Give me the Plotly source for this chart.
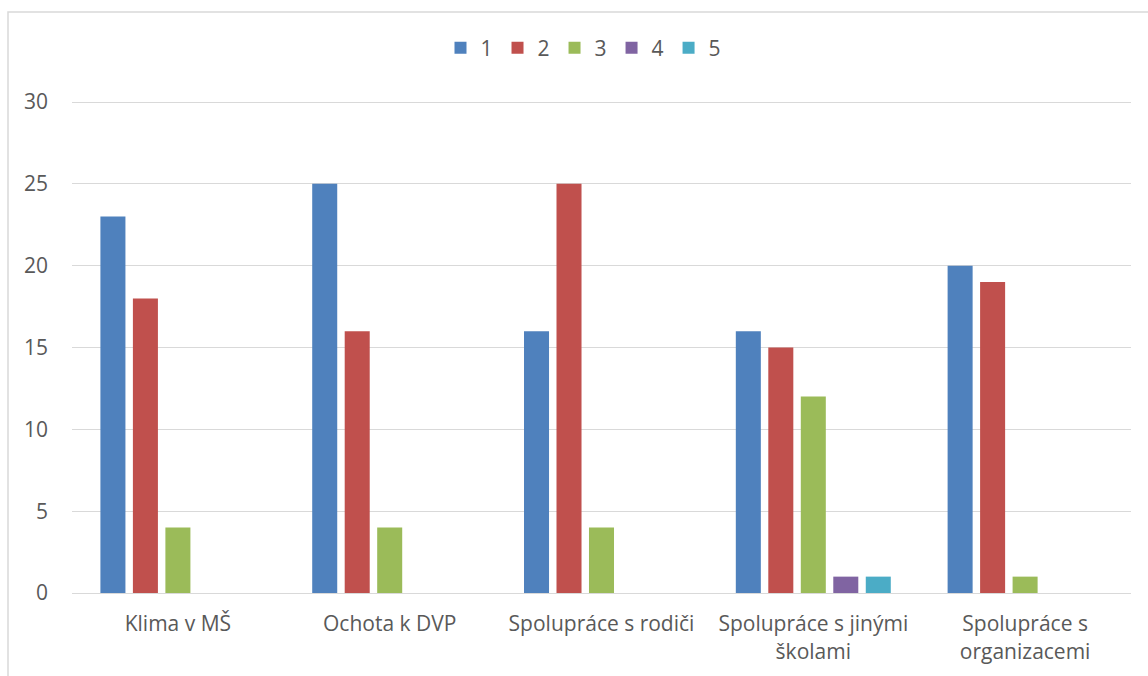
import plotly.graph_objects as go

categories = ["Klima v MŠ", "Ochota k DVP", "Spolupráce s rodiči",
              "Spolupráce s jinými<br>školami", "Spolupráce s<br>organizacemi"]
series_names = ["1", "2", "3", "4", "5"]
s1 = [23, 25, 16, 16, 20]
s2 = [18, 16, 25, 15, 19]
s3 = [4, 4, 4, 12, 1]
s4 = [0, 0, 0, 1, 0]
s5 = [0, 0, 0, 1, 0]
colors = ["#4F81BD", "#C0504D", "#9BBB59", "#8064A2", "#4BACC6"]
y_ticks = [0, 5, 10, 15, 20, 25, 30]

fig = go.Figure()
for name, vals, c in zip(series_names, [s1, s2, s3, s4, s5], colors):
    fig.add_trace(go.Bar(name=name, x=categories, y=vals, marker_color=c,
                         marker_line_width=0))

font_family = "Open Sans, Liberation Sans, sans-serif"
top = 100
plot_h = 593 - top
fig.update_layout(
    width=1148, height=676,
    margin=dict(l=72, r=17, t=top, b=83, autoexpand=False),
    paper_bgcolor="white", plot_bgcolor="white",
    barmode="group", bargap=0.233, bargroupgap=0.23,
    font=dict(family=font_family, size=21, color="#595959"),
    legend=dict(orientation="h", x=0.483, xanchor="center",
                y=(593 - 48) / plot_h, yanchor="middle",
                font=dict(size=21, color="#595959"), itemwidth=30,
                traceorder="normal"),
    xaxis=dict(showgrid=False, showline=True, linecolor="#D9D9D9", linewidth=1,
               ticks="", ticklabelstandoff=12,
               tickfont=dict(size=21, color="#595959")),
    yaxis=dict(range=[0, 30 * plot_h / 491], tickvals=y_ticks, showgrid=True,
               gridcolor="#D9D9D9", gridwidth=1, zeroline=False, showline=False,
               ticks="", ticklabelstandoff=23,
               tickfont=dict(size=21, color="#595959")),
    shapes=[dict(type="rect", xref="paper", yref="paper",
                 x0=(8 - 72) / 1059, x1=1.5, y0=-0.5, y1=(593 - 12) / plot_h,
                 line=dict(color="#D9D9D9", width=1.5), fillcolor="rgba(0,0,0,0)",
                 layer="below")],
)
fig.write_html("out.html", config={"displayModeBar": False},
               post_script="document.body.style.margin='0';")
